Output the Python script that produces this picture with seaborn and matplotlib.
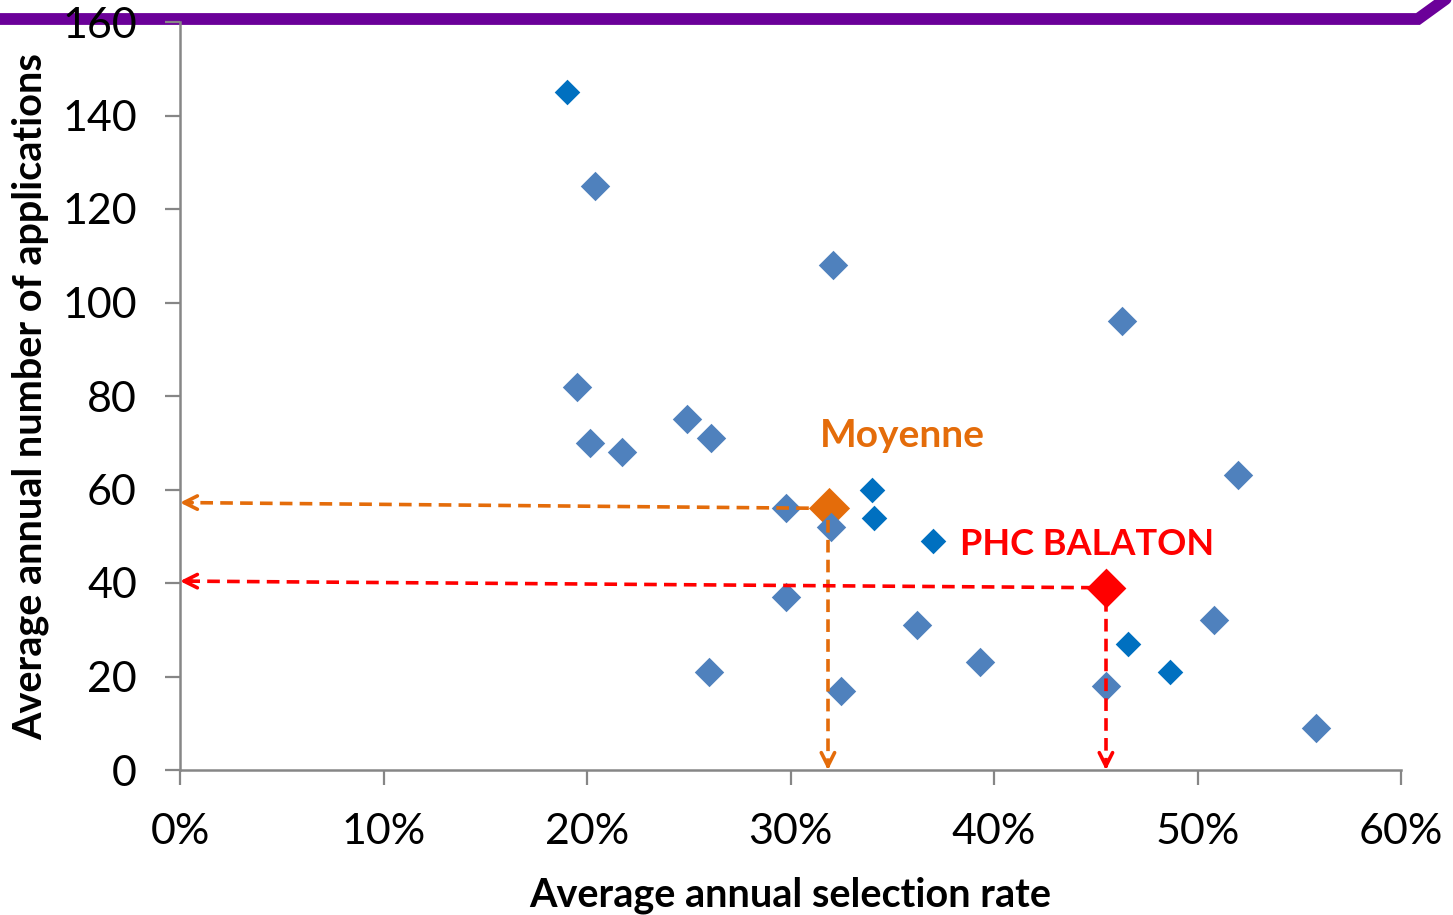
import matplotlib
matplotlib.use("Agg")
import matplotlib.pyplot as plt
import seaborn as sns
import pandas as pd
from matplotlib.lines import Line2D

# ---- data ----
rate_a = [0.204, 0.321, 0.463, 0.195, 0.2015, 0.217, 0.249, 0.261, 0.520,
          0.298, 0.320, 0.298, 0.362, 0.260, 0.393, 0.325, 0.455, 0.508, 0.558]
apps_a = [125, 108, 96, 82, 70, 68, 75, 71, 63,
          56, 52, 37, 31, 21, 23, 17, 18, 32, 9]
rate_b = [0.190, 0.340, 0.341, 0.370, 0.466, 0.4865]
apps_b = [145, 60, 54, 49, 27, 21]
avg_rate, avg_apps = 0.319, 56
phc_rate, phc_apps = 0.455, 39
avg_arrow_y = 57.2
phc_arrow_y = 40.4
avg_drop_x = 0.3184
phc_drop_x = 0.455

x_ticks = [0, 0.1, 0.2, 0.3, 0.4, 0.5, 0.6]
x_labels = ["0%", "10%", "20%", "30%", "40%", "50%", "60%"]
y_ticks = [0, 20, 40, 60, 80, 100, 120, 140, 160]

sns.set_theme(style="white")
plt.rcParams['font.family'] = ['Lato', 'DejaVu Sans']

W, H = 1453, 915
fig = plt.figure(figsize=(W / 100, H / 100), dpi=100)
ax = fig.add_axes([180 / W, (H - 770) / H, (1401 - 180) / W, (770 - 22) / H])
ax.patch.set_alpha(0)
ax.set_zorder(1)

# purple top banner
fig.add_artist(Line2D([0, 1418 / W, 1447 / W], [1 - 19 / H, 1 - 19 / H, 1 + 2 / H],
                      transform=fig.transFigure, color="#6B0099", lw=8.5,
                      solid_joinstyle="miter", zorder=0))

df_avg = pd.DataFrame({"x": [avg_rate], "y": [avg_apps]})
df_phc = pd.DataFrame({"x": [phc_rate], "y": [phc_apps]})
df_a = pd.DataFrame({"x": rate_a, "y": apps_a})
df_b = pd.DataFrame({"x": rate_b, "y": apps_b})

sns.scatterplot(data=df_avg, x="x", y="y", marker="D", s=440, color="#E46C0A",
                linewidth=0, ax=ax, zorder=3)
sns.scatterplot(data=df_phc, x="x", y="y", marker="D", s=410, color="#FF0000",
                linewidth=0, ax=ax, zorder=3)
sns.scatterplot(data=df_a, x="x", y="y", marker="D", s=225, color="#4F81BD",
                linewidth=0, ax=ax, zorder=4)
sns.scatterplot(data=df_b, x="x", y="y", marker="D", s=170, color="#0070C0",
                linewidth=0, ax=ax, zorder=4)

# dashed guide lines
dash = (0, (3.5, 2))
ax.plot([avg_rate - 0.01, 0.003], [avg_apps, avg_arrow_y], color="#E46C0A", lw=2.6,
        ls=dash, zorder=5, clip_on=False)
ax.plot([avg_drop_x, avg_drop_x], [avg_apps - 2.5, 0.8], color="#E46C0A", lw=2.6,
        ls=dash, zorder=5, clip_on=False)
ax.plot([phc_rate - 0.006, 0.003], [phc_apps, phc_arrow_y], color="#FF0000", lw=2.6,
        ls=dash, zorder=5, clip_on=False)
ax.plot([phc_drop_x, phc_drop_x], [phc_apps - 2.5, 0.8], color="#FF0000", lw=2.6,
        ls=dash, zorder=5, clip_on=False)

# arrowheads
def head(x_tip, y_tip, dx, dy, color):
    ax.annotate("", xy=(x_tip, y_tip), xytext=(x_tip + dx, y_tip + dy),
                arrowprops=dict(arrowstyle="->,head_length=0.8,head_width=0.4",
                                color=color, lw=2.6, shrinkA=0, shrinkB=0),
                zorder=6, annotation_clip=False)

head(0.0, avg_arrow_y, 0.006, 0, "#E46C0A")
head(0.0, phc_arrow_y, 0.006, 0, "#FF0000")
head(avg_drop_x, 0.0, 0, 1.5, "#E46C0A")
head(phc_drop_x, 0.0, 0, 1.5, "#FF0000")

ax.text(0.3145, 71.5, "Moyenne", color="#E46C0A", fontsize=28, fontweight="bold",
        ha="left", va="center")
ax.text(0.3835, 48.3, "PHC BALATON", color="#FF0000", fontsize=26, fontweight="bold",
        ha="left", va="center")

ax.set_xlim(0, 0.6)
ax.set_ylim(0, 160)
ax.set_xticks(x_ticks)
ax.set_xticklabels(x_labels)
ax.set_yticks(y_ticks)
ax.tick_params(axis="both", which="both", direction="out", length=11, width=1.6,
               color="#868686", labelsize=31, labelcolor="black", bottom=True, left=True)
ax.tick_params(axis="x", pad=20)
ax.tick_params(axis="y", pad=20)
for side in ["top", "right"]:
    ax.spines[side].set_visible(False)
for side in ["left", "bottom"]:
    ax.spines[side].set_color("#868686")
    ax.spines[side].set_linewidth(1.8)

ax.set_xlabel("Average annual selection rate", fontsize=28.5, fontweight="bold",
              color="black")
ax.set_ylabel("Average annual number of applications", fontsize=28.5,
              fontweight="bold", color="black")
ax.xaxis.set_label_coords(0.5, (770 - 895) / 748)
ax.yaxis.set_label_coords((30 - 180) / 1221, 0.5 + (770 - 397 - 374) / 748)
ax.xaxis.label.set_va("center")
ax.yaxis.label.set_va("center")
ax.grid(False)

fig.savefig("out.png", dpi=100)
